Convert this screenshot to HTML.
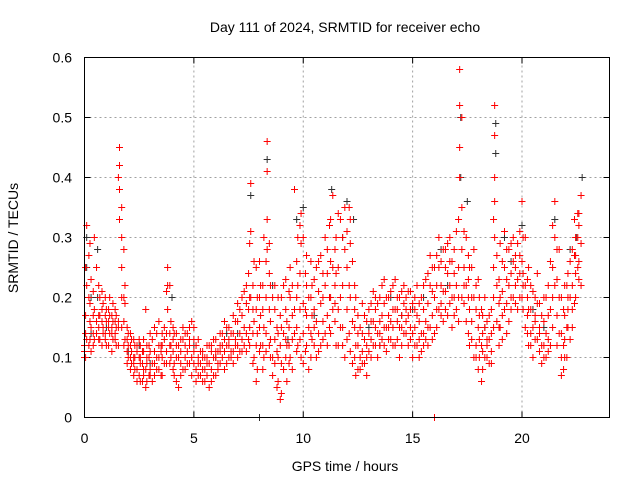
<!DOCTYPE html>
<html><head><meta charset="utf-8"><style>
body{margin:0;background:#fff;}
svg text{font-family:"Liberation Sans",sans-serif;}
</style></head><body>
<svg id="chart" width="640" height="480" xmlns="http://www.w3.org/2000/svg">
<text x="345" y="32" font-size="14" text-anchor="middle">Day 111 of 2024, SRMTID for receiver echo</text>
<text x="345" y="471" font-size="14" text-anchor="middle">GPS time / hours</text>
<text transform="translate(18,238) rotate(-90)" font-size="14" text-anchor="middle">SRMTID / TECUs</text>
<g id="grid"></g>
<g id="ticks"></g>
<g id="black-series"></g>
<g id="red-series"></g>
<rect x="84.5" y="57.5" width="525" height="360" fill="none" stroke="#000" stroke-width="1"/>
</svg>
<script>
const xTicks=[0,5,10,15,20];
const yTicks=[0,0.1,0.2,0.3,0.4,0.5,0.6];
const yTickLabels=["0","0.1","0.2","0.3","0.4","0.5","0.6"];
// groups: [time, values...]
const redGroups=[
[0.0,0.11,0.12,0.1],[0.1,0.13,0.32,0.22],[0.2,0.12,0.2,0.27],[0.3,0.15,0.11,0.23],[0.45,0.3,0.18,0.13],[0.55,0.25,0.16,0.14],
[0.7,0.17,0.2,0.13],[0.85,0.15,0.19,0.14],[1.0,0.16,0.12,0.18],[1.15,0.17,0.14,0.2],[1.3,0.13,0.16,0.19],[1.45,0.15,0.12,0.17],
[1.6,0.45,0.42,0.38,0.33],[1.7,0.35,0.3,0.25,0.2,0.15],[1.85,0.13,0.19,0.22],[2.0,0.12,0.1,0.14],[2.15,0.09,0.11,0.13],[2.3,0.08,0.12,0.1],
[2.5,0.07,0.1,0.13],[2.65,0.09,0.06,0.11],[2.8,0.05,0.08,0.18],[2.95,0.1,0.07,0.12],[3.1,0.09,0.13,0.06],[3.3,0.1,0.08,0.14],
[3.5,0.12,0.07,0.11],[3.65,0.13,0.09,0.15],[3.8,0.25,0.22,0.18],[3.95,0.12,0.1,0.16],[4.1,0.09,0.14,0.07],[4.3,0.1,0.05,0.12],
[4.5,0.13,0.08,0.15],[4.7,0.11,0.09,0.14],[4.9,0.1,0.07,0.16],[5.1,0.12,0.08,0.06],[5.3,0.09,0.11,0.07],[5.5,0.06,0.1,0.08],
[5.7,0.09,0.12,0.05],[5.9,0.07,0.1,0.13],[6.1,0.11,0.08,0.09],[6.3,0.1,0.12,0.14],[6.5,0.12,0.09,0.15],[6.7,0.11,0.14,0.1],
[6.9,0.13,0.16,0.12],[7.1,0.14,0.11,0.18],[7.3,0.15,0.21,0.12],[7.5,0.18,0.24,0.13],[7.6,0.39,0.31,0.2],[7.75,0.16,0.26,0.1],
[7.9,0.2,0.14,0.08],[8.05,0.22,0.12,0.17],[8.2,0.3,0.1,0.15],[8.35,0.46,0.41,0.33,0.28],[8.45,0.29,0.24,0.18,0.12],[8.6,0.2,0.1,0.07],
[8.8,0.15,0.05,0.11],[8.95,0.12,0.03,0.17],[9.1,0.22,0.08,0.14],[9.25,0.16,0.12,0.06],[9.4,0.2,0.1,0.25],[9.6,0.38,0.14,0.18],
[9.75,0.3,0.12,0.22],[9.9,0.34,0.29,0.1],[10.1,0.18,0.11,0.24],[10.25,0.15,0.2,0.08],[10.4,0.22,0.13,0.17],[10.6,0.25,0.16,0.1],
[10.8,0.27,0.19,0.12],[11.0,0.22,0.14,0.3],[11.2,0.2,0.32,0.15],[11.35,0.37,0.25,0.18],[11.5,0.24,0.3,0.12],[11.7,0.33,0.2,0.15],
[11.9,0.28,0.35,0.1],[12.1,0.35,0.22,0.14],[12.25,0.26,0.16,0.09],[12.4,0.2,0.12,0.07],[12.6,0.15,0.1,0.08],[12.8,0.13,0.09,0.17],
[13.0,0.11,0.18,0.14],[13.2,0.16,0.12,0.21],[13.4,0.14,0.19,0.1],[13.6,0.17,0.13,0.22],[13.8,0.2,0.15,0.11],[14.0,0.16,0.21,0.13],
[14.2,0.18,0.12,0.23],[14.4,0.15,0.2,0.1],[14.6,0.19,0.14,0.22],[14.8,0.17,0.12,0.21],[15.0,0.14,0.19,0.1],[15.2,0.17,0.12,0.22],
[15.4,0.2,0.14,0.11],[15.6,0.16,0.23,0.13],[15.8,0.22,0.15,0.27],[16.0,0.2,0.14,0.25],[16.2,0.25,0.18,0.3],[16.4,0.21,0.28,0.16],
[16.6,0.24,0.17,0.29],[16.8,0.2,0.26,0.15],[17.0,0.22,0.31,0.18],[17.15,0.58,0.52,0.45,0.4],[17.25,0.5,0.35,0.28,0.2],[17.45,0.22,0.3,0.16],
[17.6,0.18,0.25,0.12],[17.8,0.28,0.2,0.1],[18.0,0.15,0.23,0.08],[18.15,0.12,0.18,0.06],[18.3,0.1,0.15,0.2],[18.5,0.13,0.09,0.17],
[18.75,0.52,0.47,0.4,0.36,0.3],[18.85,0.27,0.22,0.16],[19.0,0.2,0.15,0.29],[19.2,0.25,0.18,0.31],[19.4,0.22,0.28,0.16],[19.6,0.26,0.2,0.3],
[19.8,0.23,0.18,0.29],[20.0,0.36,0.26,0.2],[20.15,0.3,0.22,0.15],[20.3,0.18,0.25,0.12],[20.5,0.15,0.21,0.1],[20.7,0.13,0.19,0.24],
[20.9,0.12,0.17,0.09],[21.1,0.14,0.1,0.2],[21.3,0.26,0.18,0.12],[21.5,0.36,0.3,0.22],[21.7,0.28,0.2,0.14],[21.9,0.12,0.18,0.08],
[22.05,0.15,0.22,0.1],[22.2,0.2,0.26,0.13],[22.4,0.27,0.33,0.19],[22.55,0.34,0.25,0.3],[22.7,0.37,0.29,0.22],[16.0,0.0]
];
const redGroupsB=[
[0.05,0.1,0.14,0.17,0.25],[0.25,0.16,0.13,0.19,0.29],[0.4,0.12,0.14,0.21,0.17],[0.65,0.15,0.13,0.22,0.17],[0.8,0.12,0.16,0.21,0.18],
[0.95,0.14,0.17,0.13,0.2],[1.1,0.15,0.12,0.16,0.18],[1.25,0.14,0.17,0.11,0.15],[1.4,0.13,0.16,0.18,0.14],[1.55,0.12,0.16,0.15,0.4],
[1.8,0.2,0.28,0.12,0.16],[1.95,0.11,0.13,0.09,0.15],[2.1,0.12,0.08,0.1,0.14],[2.25,0.1,0.07,0.13,0.09],[2.4,0.11,0.08,0.06,0.12],
[2.55,0.09,0.12,0.06,0.1],[2.7,0.08,0.11,0.13,0.07],[2.85,0.1,0.06,0.12,0.09],[3.0,0.08,0.11,0.07,0.14],[3.2,0.11,0.09,0.15,0.07],
[3.4,0.08,0.12,0.1,0.16],[3.55,0.1,0.14,0.07,0.12],[3.75,0.11,0.14,0.09,0.21],[3.9,0.14,0.22,0.09,0.12],[4.05,0.11,0.13,0.08,0.15],
[4.2,0.12,0.06,0.1,0.14],[4.4,0.09,0.13,0.11,0.07],[4.6,0.1,0.14,0.12,0.08],[4.8,0.12,0.15,0.09,0.13],[5.0,0.09,0.13,0.11,0.15],
[5.2,0.1,0.07,0.13,0.09],[5.4,0.08,0.11,0.06,0.1],[5.6,0.1,0.07,0.12,0.09],[5.8,0.08,0.11,0.06,0.12],[6.0,0.1,0.13,0.07,0.11],
[6.2,0.09,0.12,0.14,0.11],[6.4,0.11,0.13,0.08,0.16],[6.6,0.12,0.15,0.1,0.13],[6.8,0.11,0.14,0.17,0.09],[7.0,0.12,0.16,0.1,0.19],
[7.2,0.13,0.17,0.11,0.2],[7.4,0.14,0.19,0.22,0.11],[7.55,0.2,0.15,0.29,0.12],[7.7,0.22,0.14,0.18,0.09],[7.85,0.18,0.12,0.25,0.06],
[8.0,0.15,0.2,0.11,0.26],[8.15,0.18,0.12,0.22,0.08],[8.3,0.2,0.14,0.26,0.11],[8.5,0.16,0.22,0.1,0.13],[8.7,0.13,0.18,0.09,0.22],
[8.85,0.1,0.14,0.2,0.06],[9.0,0.09,0.15,0.2,0.04],[9.2,0.13,0.18,0.1,0.23],[9.35,0.15,0.09,0.21,0.12],[9.5,0.13,0.17,0.22,0.08],
[9.7,0.15,0.2,0.26,0.11],[9.85,0.13,0.18,0.24,0.32],[10.0,0.14,0.3,0.19,0.09],[10.15,0.12,0.17,0.22,0.27],[10.35,0.14,0.2,0.1,0.26],
[10.5,0.12,0.18,0.23,0.15],[10.7,0.14,0.21,0.11,0.26],[10.9,0.13,0.2,0.24,0.16],[11.1,0.17,0.24,0.12,0.28],[11.25,0.14,0.2,0.26,0.33],
[11.45,0.16,0.22,0.19,0.28],[11.6,0.12,0.18,0.25,0.34],[11.8,0.15,0.22,0.3,0.12],[12.0,0.18,0.25,0.31,0.13],[12.15,0.2,0.29,0.11,0.33],
[12.35,0.15,0.22,0.1,0.18],[12.5,0.12,0.17,0.08,0.14],[12.7,0.11,0.14,0.09,0.19],[12.9,0.12,0.16,0.1,0.07],[13.1,0.13,0.1,0.16,0.19],
[13.3,0.12,0.18,0.15,0.2],[13.5,0.16,0.12,0.2,0.14],[13.7,0.15,0.19,0.12,0.23],[13.9,0.17,0.13,0.2,0.15],[14.1,0.15,0.18,0.22,0.12],
[14.3,0.16,0.2,0.13,0.18],[14.5,0.17,0.21,0.12,0.15],[14.7,0.14,0.18,0.2,0.16],[14.9,0.15,0.18,0.13,0.21],[15.1,0.15,0.12,0.18,0.2],
[15.3,0.13,0.16,0.19,0.1],[15.5,0.14,0.18,0.22,0.12],[15.7,0.15,0.19,0.24,0.12],[15.9,0.17,0.21,0.25,0.13],[16.1,0.18,0.22,0.27,0.15],
[16.3,0.19,0.22,0.26,0.17],[16.5,0.18,0.21,0.25,0.28],[16.7,0.19,0.22,0.26,0.3],[16.9,0.2,0.24,0.17,0.28],[17.1,0.2,0.25,0.33,0.16],
[17.35,0.22,0.25,0.19,0.31],[17.55,0.2,0.27,0.14,0.23],[17.7,0.16,0.2,0.25,0.13],[17.9,0.12,0.18,0.22,0.1],[18.05,0.13,0.1,0.17,0.2],
[18.2,0.11,0.14,0.08,0.17],[18.4,0.1,0.13,0.16,0.12],[18.6,0.11,0.14,0.18,0.09],[18.7,0.2,0.25,0.33,0.15],[18.95,0.15,0.19,0.23,0.12],
[19.1,0.17,0.21,0.26,0.13],[19.3,0.19,0.23,0.28,0.14],[19.5,0.2,0.24,0.18,0.29],[19.7,0.22,0.25,0.19,0.27],[19.9,0.2,0.24,0.27,0.31],
[20.05,0.22,0.24,0.18,0.3],[20.25,0.17,0.2,0.23,0.14],[20.4,0.14,0.18,0.22,0.12],[20.6,0.13,0.17,0.2,0.16],[20.8,0.11,0.15,0.19,0.14],
[21.0,0.12,0.16,0.2,0.1],[21.2,0.13,0.17,0.22,0.11],[21.4,0.15,0.2,0.25,0.32],[21.6,0.17,0.23,0.28,0.12],[21.8,0.1,0.14,0.2,0.07],
[21.95,0.13,0.17,0.22,0.1],[22.1,0.15,0.2,0.24,0.18],[22.3,0.18,0.22,0.28,0.15],[22.45,0.2,0.24,0.3,0.27],[22.6,0.26,0.32,0.34,0.23]
];
const blackGroups=[
[0.1,0.3,0.25],[0.6,0.28,0.2],[1.6,0.38,0.42],[2.5,0.12],[4.0,0.2],[5.0,0.12],[6.5,0.14],[7.6,0.37],[8.0,0.0],[8.35,0.43],
[9.7,0.33],[10.0,0.35],[11.3,0.38],[12.0,0.36],[13.0,0.15],[14.0,0.2],[15.0,0.18],[16.3,0.28],[17.2,0.5,0.4],[17.5,0.36],
[18.8,0.49,0.44],[19.2,0.3],[20.0,0.32],[21.5,0.33],[22.2,0.28],[22.75,0.4]
];
const blackGroupsB=[
[0.3,0.14,0.2],[1.0,0.15],[2.0,0.11],[3.0,0.09],[6.0,0.1],[7.0,0.14],[8.6,0.22],[9.3,0.13],[10.5,0.17],[11.8,0.3],
[12.3,0.33],[13.5,0.12],[14.5,0.17],[15.5,0.2],[16.6,0.22],[17.6,0.25],[18.3,0.15],[19.5,0.26],[20.5,0.18],[21.0,0.15],[22.5,0.3]
];
const NS="http://www.w3.org/2000/svg";
const X0=84.5,X1=609.5,Y0=417.5,Y1=57.5,XMAX=24,YMAX=0.6;
function xs(t){return X0+(t/XMAX)*(X1-X0);}
function ys(v){return Y0-(v/YMAX)*(Y0-Y1);}
const grid=document.getElementById('grid'),ticks=document.getElementById('ticks');
function mk(tag,attrs,parent){const e=document.createElementNS(NS,tag);for(const k in attrs)e.setAttribute(k,attrs[k]);parent.appendChild(e);return e;}
xTicks.forEach(t=>{
  const x=xs(t);
  if(t>0){const g=mk('line',{x1:x,x2:x,y1:Y0,y2:Y1,stroke:'#a0a0a0','stroke-dasharray':'2,3'},grid);
  
  }
  const tk=mk('line',{x1:x,x2:x,y1:Y0,y2:Y0-6,stroke:'#000'},ticks);
  
  
  const tk2=mk('line',{x1:x,x2:x,y1:Y1,y2:Y1+6,stroke:'#000'},ticks);
  
  
  const tx=mk('text',{x:x,y:443,'font-size':14,'text-anchor':'middle'},ticks);tx.textContent=String(t);
  
  
});
yTicks.forEach((v,i)=>{
  const y=ys(v);
  if(v>0&&v<YMAX){const g=mk('line',{x1:X0,x2:X1,y1:y,y2:y,stroke:'#a0a0a0','stroke-dasharray':'2,3'},grid);
  
  }
  const tk=mk('line',{x1:X0,x2:X0+6,y1:y,y2:y,stroke:'#000'},ticks);
  
  
  const tk2=mk('line',{x1:X1,x2:X1-6,y1:y,y2:y,stroke:'#000'},ticks);
  
  
  const tx=mk('text',{x:72,y:y+5,'font-size':14,'text-anchor':'end'},ticks);tx.textContent=yTickLabels[i];
  
  
});
function plot(groups,color,parentId,name){
  const p=document.getElementById(parentId);
  groups.forEach(g=>{
    const t=g[0];
    for(let i=1;i<g.length;i++){
      const x=xs(t),y=ys(g[i]);
      const m=mk('path',{d:`M${x-3.5},${y}H${x+3.5}M${x},${y-3.5}V${y+3.5}`,stroke:color,'stroke-width':1,fill:'none'},p);
      
      
    }
  });
}
plot(blackGroups,'#303030','black-series','black-point');
plot(blackGroupsB,'#303030','black-series','black-point');
plot(redGroups,'#ff0000','red-series','red-point');
plot(redGroupsB,'#ff0000','red-series','red-point');
</script>
</body></html>
